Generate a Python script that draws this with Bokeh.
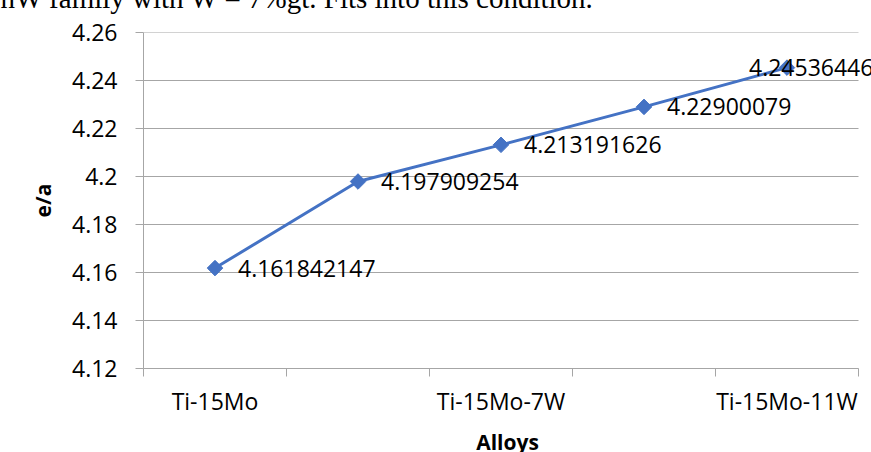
import math

from bokeh.core.properties import value
from bokeh.embed import file_html
from bokeh.models import (ColumnDataSource, CustomJSTickFormatter,
                          FixedTicker, Label, LabelSet, Range1d)
from bokeh.plotting import figure
from bokeh.resources import INLINE

# e/a ratio per alloy (only every other category name is printed on the axis)
tick_labels = ["Ti-15Mo", "", "Ti-15Mo-7W", "", "Ti-15Mo-11W"]
ea_values = [4.161842147, 4.197909254, 4.213191626, 4.22900079, 4.24536446]
y_ticks = [4.12, 4.14, 4.16, 4.18, 4.2, 4.22, 4.24, 4.26]

# label placement (pixels, to the right of each marker; the last one is pulled back inside)
label_dx = [23, 23, 23, 23, -38]

BLUE = "#4472C4"
GREY = "#a6a6a6"
FONT = "Open Sans"
FS = "23px"

n = len(ea_values)
positions = list(range(n))
x_lo, x_hi = -0.5, n - 0.5

# the frame runs to the right edge so the last value label is not cut short;
# the extra 13 px past the last category boundary is empty chart area
p = figure(frame_width=728, frame_height=336, output_backend="svg", toolbar_location=None,
           x_range=Range1d(x_lo, x_hi + 13 / 143),
           y_range=Range1d(y_ticks[0], y_ticks[-1]),
           min_border_left=143, min_border_right=0, min_border_top=32, min_border_bottom=0)
p.outline_line_color = None
p.background_fill_color = "white"
p.border_fill_color = "white"

# y axis
p.yaxis.ticker = FixedTicker(ticks=y_ticks)
p.yaxis.formatter = CustomJSTickFormatter(code="return tick.toFixed(2).replace(/0+$/, '');")
p.yaxis.major_tick_out = 8
p.yaxis.major_tick_in = 0
p.yaxis.minor_tick_line_color = None
p.yaxis.axis_line_color = GREY
p.yaxis.major_tick_line_color = GREY
p.yaxis.major_label_standoff = 18
p.yaxis.major_label_text_font = FONT
p.yaxis.major_label_text_font_size = FS
p.yaxis.major_label_text_color = "black"
p.yaxis.axis_label = "e/a"
p.yaxis.axis_label_text_font = FONT
p.yaxis.axis_label_text_font_style = "bold"
p.yaxis.axis_label_text_font_size = "21px"
p.yaxis.axis_label_text_color = "black"
p.yaxis.axis_label_standoff = 12

# x axis: names under category centres, tick marks on category boundaries
p.xaxis.bounds = (x_lo, x_hi)
p.xaxis.ticker = FixedTicker(ticks=positions, minor_ticks=[i - 0.5 for i in range(n + 1)])
p.xaxis.major_label_overrides = {i: t for i, t in zip(positions, tick_labels)}
p.xaxis.major_tick_line_color = None
p.xaxis.major_tick_out = 0
p.xaxis.major_tick_in = 0
p.xaxis.minor_tick_out = 8
p.xaxis.minor_tick_in = 0
p.xaxis.minor_tick_line_color = GREY
p.xaxis.axis_line_color = GREY
p.xaxis.major_label_standoff = 8
p.xaxis.major_label_text_font = FONT
p.xaxis.major_label_text_font_size = FS
p.xaxis.major_label_text_color = "black"
p.xaxis.axis_label = "Alloys"
p.xaxis.axis_label_text_font = FONT
p.xaxis.axis_label_text_font_style = "bold"
p.xaxis.axis_label_text_font_size = "21px"
p.xaxis.axis_label_text_color = "black"
p.xaxis.axis_label_standoff = 8

# horizontal gridlines limited to the category span
p.xgrid.grid_line_color = None
p.ygrid.grid_line_color = None
p.segment(x0=[x_lo] * len(y_ticks), x1=[x_hi] * len(y_ticks), y0=y_ticks, y1=y_ticks,
          line_color=GREY, line_width=1, level="underlay")

src = ColumnDataSource(dict(x=positions, y=ea_values,
                            txt=[str(v) for v in ea_values], dx=label_dx))

p.line("x", "y", source=src, line_color=BLUE, line_width=3)
p.scatter("x", "y", source=src, marker="square", angle=math.pi / 4, size=11,
          fill_color=BLUE, line_color=BLUE)

p.add_layout(LabelSet(x="x", y="y", text="txt", source=src, x_offset="dx",
                      text_font=value(FONT), text_font_size=FS, text_color="black",
                      text_align="left", text_baseline="middle"))

# running text of the page above the chart
p.add_layout(Label(x=-143, y=35, x_units="screen", y_units="screen",
                   text="nW family with W = 7%gt. Fits into this condition.",
                   text_font="Liberation Serif", text_font_size="29px",
                   text_color="black", text_baseline="alphabetic"), "above")

open("out.html", "w").write(file_html(p, INLINE))
